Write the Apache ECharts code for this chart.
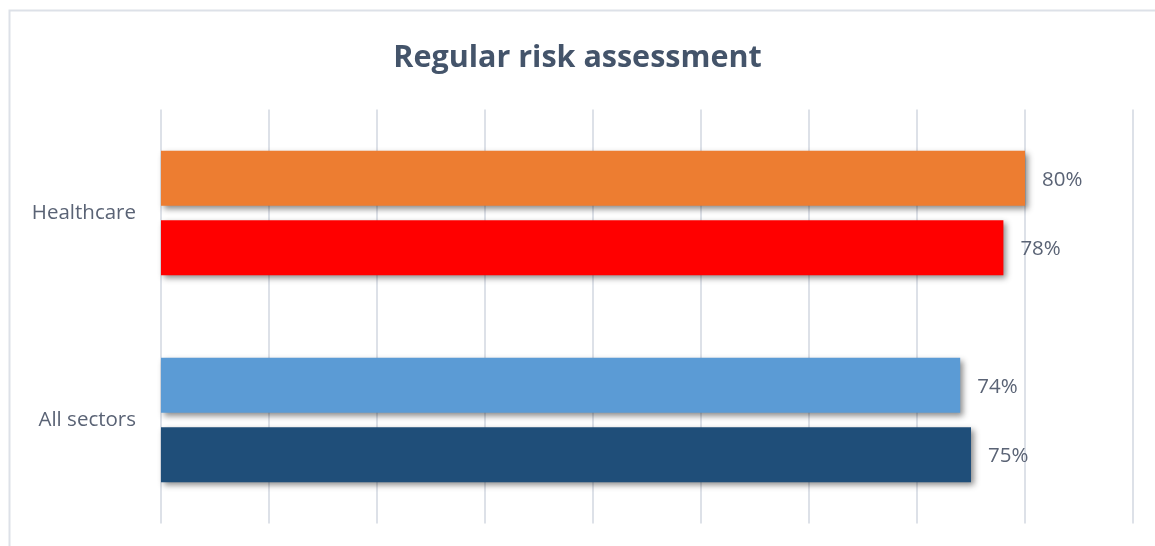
<!DOCTYPE html>
<html>
<head>
<meta charset="utf-8">
<script src="https://cdn.jsdelivr.net/npm/echarts@6/dist/echarts.min.js"></script>
<style>
html,body{margin:0;padding:0;background:#fff;}
#chart{width:1155px;height:546px;}
</style>
</head>
<body>
<div id="chart"></div>
<script>
const categories = ['All sectors', 'Healthcare'];
const firstBarValues = [74, 80];
const secondBarValues = [75, 78];
const firstBarColors = ['#5B9BD5', '#ED7D31'];
const secondBarColors = ['#1F4E79', '#FF0000'];
const xTicks = [0, 10, 20, 30, 40, 50, 60, 70, 80, 90];

const chart = echarts.init(document.getElementById('chart'));
const shadow = {shadowColor: 'rgba(0,0,0,0.45)', shadowBlur: 6, shadowOffsetX: 3, shadowOffsetY: 3};
const labelStyle = {show: true, position: 'right', distance: 17, offset: [0, 2], formatter: p => p.value + '%', color: '#5A6375', fontSize: 20.5, fontFamily: 'Open Sans'};
chart.setOption({
  animation: false,
  title: {text: 'Regular risk assessment', left: 'center', top: 38, textStyle: {color: '#44546A', fontSize: 30.5, fontWeight: 'bold', fontFamily: 'Open Sans'}},
  graphic: [{type: 'rect', shape: {x: 9.5, y: 10.5, width: 1160, height: 560}, style: {fill: 'none', stroke: '#DDE1E8', lineWidth: 2}, silent: true}],
  grid: {left: 161, right: 22, top: 109.5, bottom: 22.5},
  xAxis: {type: 'value', min: xTicks[0], max: xTicks[xTicks.length - 1], interval: 10,
    axisLabel: {show: false}, axisLine: {show: false}, axisTick: {show: false},
    splitLine: {show: true, lineStyle: {color: '#DDE1E8', width: 2}}},
  yAxis: {type: 'category', data: categories, axisLine: {show: false}, axisTick: {show: false},
    axisLabel: {color: '#5A6375', fontSize: 20.5, fontFamily: 'Open Sans', margin: 25}},
  series: [
    {type: 'bar', name: 'A', barWidth: 55, barGap: '26%',
     data: firstBarValues.map((v, i) => ({value: v, itemStyle: Object.assign({color: firstBarColors[i]}, shadow)})),
     label: labelStyle},
    {type: 'bar', name: 'B', barWidth: 55, barGap: '26%',
     data: secondBarValues.map((v, i) => ({value: v, itemStyle: Object.assign({color: secondBarColors[i]}, shadow)})),
     label: labelStyle}
  ]
});
</script>
</body>
</html>
